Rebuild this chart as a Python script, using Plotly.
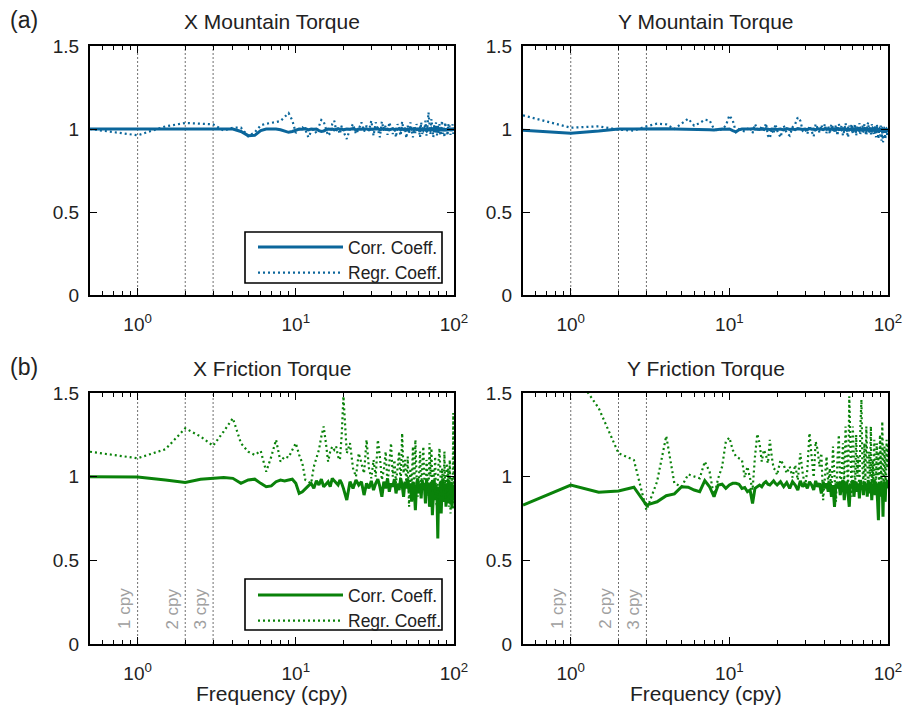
import math
import plotly.graph_objects as go

# ---------------- data ----------------
freq = [
    0.5, 1, 1.5, 2, 2.5, 3, 3.5, 4, 4.5, 5,
    5.5, 6, 6.5, 7, 7.5, 8, 8.5, 9, 9.5, 10,
    10.5, 11, 11.5, 12, 12.5, 13, 13.5, 14, 14.5, 15,
    15.5, 16, 16.5, 17, 17.5, 18, 18.5, 19, 19.5, 20,
    21, 22, 23, 24, 25, 26, 27, 28, 29, 30,
    31, 32, 33, 34, 35, 36, 37, 38, 39, 40,
    41, 42, 43, 44, 45, 46, 47, 48, 49, 50,
    51, 52, 53, 54, 55, 56, 57, 58, 59, 60,
    61, 62, 63, 64, 65, 66, 67, 68, 69, 70,
    71, 72, 73, 74, 75, 76, 77, 78, 79, 80,
    81, 82, 83, 84, 85, 86, 87, 88, 89, 90,
    91, 92, 93, 94, 95, 96, 97, 98, 99, 100,
]

xm_corr = [
    1.0, 0.998, 0.998, 1.0, 1.0, 1.0, 1.002, 1.0, 0.985, 0.96,
    0.962, 0.99, 1.0, 1.002, 1.0, 0.995, 0.988, 0.98, 0.985, 0.995,
    1.0, 0.998, 1.002, 0.995, 1.0, 0.998, 1.0, 0.99, 0.985, 0.988,
    0.995, 1.0, 0.998, 1.0, 0.995, 1.0, 1.002, 0.998, 1.0, 0.995,
    1.0, 0.998, 1.002, 0.995, 1.0, 0.998, 1.0, 1.002, 0.995, 1.0,
    0.998, 1.0, 1.002, 0.995, 1.0, 1.003, 0.997, 1.0, 0.995, 1.0,
    1.002, 0.996, 1.0, 0.998, 1.003, 0.995, 1.0, 0.997, 1.002, 0.996,
    1.0, 0.995, 1.003, 0.998, 1.0, 0.994, 1.002, 0.997, 1.0, 0.993,
    1.004, 0.996, 1.0, 0.992, 1.003, 0.998, 0.99, 1.004, 0.996, 1.0,
    0.992, 1.003, 0.997, 1.0, 0.99, 1.004, 0.995, 1.0, 0.991, 1.003,
    0.996, 0.99, 1.004, 0.997, 0.99, 1.003, 0.996, 0.99, 1.002, 0.995,
    0.99, 1.003, 0.996, 0.992, 1.004, 0.995, 0.99, 1.002, 0.996, 0.99,
]
xm_regr = [
    1.0, 0.962, 1.016, 1.036, 1.032, 1.028, 0.99, 1.008, 1.008, 0.956,
    0.98, 1.022, 1.032, 1.036, 1.042, 1.048, 1.076, 1.096, 1.052, 0.976,
    1.0, 1.01, 0.995, 0.95, 0.985, 1.0, 0.975, 1.01, 1.055, 1.045,
    1.0, 0.96, 0.975, 1.03, 1.05, 0.99, 1.0, 0.97, 1.02, 0.985,
    0.94, 1.0, 1.03, 0.97, 1.0, 1.04, 0.985, 1.02, 0.99, 1.05,
    0.96, 1.04, 1.0, 0.95, 1.045, 0.99, 1.02, 0.965, 1.04, 1.0,
    0.97, 1.01, 0.95, 1.03, 1.0, 0.96, 1.045, 0.99, 1.0, 0.945,
    1.02, 0.97, 1.04, 0.99, 0.95, 1.01, 0.975, 1.03, 0.985, 1.0,
    0.95, 1.04, 0.97, 1.01, 0.99, 1.05, 0.96, 1.02, 1.1, 1.03,
    0.97, 1.06, 0.99, 0.95, 1.03, 0.98, 1.04, 0.96, 1.02, 0.975,
    1.03, 0.96, 1.0, 1.05, 0.97, 1.01, 0.95, 1.04, 0.98, 1.0,
    0.96, 1.03, 0.99, 1.02, 0.965, 1.01, 0.98, 1.03, 0.97, 1.0,
]

ym_corr = [
    0.992, 0.975, 0.988, 1.0, 1.0, 1.002, 1.003, 1.002, 1.0, 1.0,
    0.998, 0.996, 0.998, 1.0, 0.996, 0.994, 0.997, 1.0, 0.998, 1.0,
    0.99, 0.983, 0.995, 1.0, 1.0, 0.998, 1.0, 1.002, 0.998, 1.0,
    0.997, 1.0, 0.998, 1.002, 1.0, 0.996, 1.0, 0.998, 1.0, 0.997,
    1.0, 0.995, 1.002, 0.997, 1.0, 0.996, 1.002, 1.0, 0.997, 1.0,
    0.996, 1.002, 0.998, 1.0, 0.995, 1.002, 0.997, 1.0, 0.996, 1.002,
    0.997, 1.0, 0.995, 1.003, 0.997, 1.0, 0.994, 1.002, 0.997, 1.0,
    0.995, 1.002, 0.996, 1.0, 0.993, 1.003, 0.997, 1.0, 0.994, 1.002,
    0.996, 1.0, 0.992, 1.003, 0.996, 0.99, 1.002, 0.995, 1.0, 0.992,
    1.002, 0.995, 0.99, 1.003, 0.996, 0.99, 1.0, 0.994, 0.99, 1.002,
    0.996, 0.99, 1.002, 0.994, 0.99, 1.0, 0.995, 0.988, 1.0, 0.994,
    0.99, 1.0, 0.993, 0.988, 1.0, 0.994, 0.99, 0.998, 0.992, 0.995,
]
ym_regr = [
    1.082, 1.008, 1.016, 0.996, 0.99, 1.016, 1.032, 1.028, 1.0, 1.032,
    1.062, 1.02, 1.036, 1.056, 1.052, 1.0, 0.99, 1.0, 1.02, 1.082,
    1.052, 0.982, 1.0, 0.99, 0.985, 1.0, 1.01, 0.975, 1.03, 1.0,
    0.99, 1.02, 0.985, 1.035, 0.96, 0.945, 1.0, 0.97, 1.03, 0.99,
    0.95, 1.02, 0.975, 0.96, 1.01, 1.03, 1.07, 1.05, 0.99, 1.0,
    0.97, 1.02, 0.985, 0.955, 1.03, 1.0, 0.98, 1.025, 0.99, 1.03,
    0.975, 1.02, 0.97, 1.03, 1.0, 0.985, 1.025, 0.96, 1.03, 0.99,
    1.02, 0.96, 0.99, 1.035, 0.985, 0.95, 1.02, 0.99, 1.03, 0.97,
    1.0, 1.03, 0.96, 1.01, 0.985, 1.035, 0.97, 1.0, 1.02, 0.975,
    1.03, 0.985, 0.96, 1.02, 1.04, 0.98, 1.01, 0.965, 1.03, 0.99,
    0.97, 1.02, 0.99, 0.95, 1.03, 0.975, 0.94, 1.0, 0.96, 1.02,
    0.93, 0.985, 0.92, 0.96, 1.0, 0.94, 0.965, 0.99, 0.955, 0.97,
]

xf_corr = [
    1.0, 0.998, 0.98, 0.965, 0.985, 0.992, 0.995, 0.99, 0.96, 0.98,
    0.985, 0.96, 0.94, 0.945, 0.97, 0.98, 0.975, 0.98, 0.985, 0.96,
    0.9, 0.91, 0.93, 0.945, 0.96, 0.93, 0.975, 0.95, 0.985, 0.94,
    0.955, 0.97, 0.94, 0.99, 0.975, 0.96, 0.95, 0.98, 0.96, 0.93,
    0.86, 0.97, 0.93, 0.98, 0.95, 0.97, 0.89, 0.96, 0.93, 0.975,
    0.92, 0.96, 0.985, 0.94, 0.88, 0.97, 0.93, 0.99, 0.91, 0.96,
    0.94, 0.985, 0.9, 0.96, 0.92, 0.99, 0.95, 0.88, 0.97, 0.93,
    0.99, 0.91, 0.96, 0.85, 0.97, 0.93, 0.8, 0.95, 0.99, 0.9,
    0.96, 0.87, 0.98, 0.92, 0.95, 0.84, 0.99, 0.9, 0.96, 0.82,
    0.94, 0.97, 0.77, 0.92, 0.98, 0.86, 0.95, 0.9, 0.63, 0.94,
    0.88, 0.97, 0.78, 0.93, 0.99, 0.85, 0.92, 0.96, 0.82, 0.95,
    0.9, 0.98, 0.84, 0.93, 0.87, 0.97, 0.81, 0.92, 0.95, 0.86,
]
xf_regr = [
    1.149, 1.11, 1.164, 1.289, 1.24, 1.185, 1.27, 1.349, 1.2, 1.149,
    1.13, 1.154, 1.03, 1.12, 1.22, 1.09, 1.12, 1.115, 1.16, 1.2,
    1.13, 1.08, 0.98, 0.97, 0.96, 1.06, 1.12, 1.16, 1.24, 1.3,
    1.2, 1.09, 1.15, 1.18, 1.16, 1.18, 1.12, 1.1, 1.25, 1.48,
    1.14, 1.2, 1.05, 1.0, 1.14, 1.08, 1.02, 1.22, 1.05, 0.99,
    1.1, 1.0, 1.22, 1.12, 0.98, 1.04, 1.15, 0.95, 1.08, 1.2,
    1.0, 1.1, 0.96, 1.05, 1.15, 0.94, 1.26, 1.02, 1.1, 0.95,
    1.12, 0.82, 1.05, 0.95, 1.18, 0.9, 1.22, 1.0, 0.88, 0.98,
    1.15, 0.92, 1.05, 1.18, 0.96, 0.85, 1.1, 0.95, 0.88, 1.2,
    1.0, 1.17, 0.9, 1.05, 0.95, 1.12, 0.86, 0.82, 1.0, 1.1,
    1.17, 0.95, 0.88, 1.05, 1.0, 0.92, 1.15, 0.85, 0.98, 1.08,
    0.95, 1.05, 0.82, 1.1, 0.78, 0.9, 1.0, 0.85, 1.38, 0.8,
]

yf_corr = [
    0.83, 0.95, 0.907, 0.915, 0.937, 0.83, 0.85, 0.886, 0.897, 0.94,
    0.937, 0.92, 0.91, 0.976, 0.94, 0.88, 0.95, 0.955, 0.93, 0.95,
    0.96, 0.96, 0.955, 0.93, 0.935, 0.91, 0.92, 0.84, 0.93, 0.94,
    0.95, 0.94, 0.96, 0.97, 0.955, 0.95, 0.965, 0.975, 0.96, 0.95,
    0.97, 0.94, 0.965, 0.93, 0.97, 0.95, 0.92, 0.975, 0.94, 0.96,
    0.93, 0.97, 0.95, 0.92, 0.975, 0.94, 0.96, 0.9, 0.97, 0.93,
    0.96, 0.91, 0.97, 0.88, 0.95, 0.82, 0.96, 0.93, 0.97, 0.89,
    0.95, 0.98, 0.86, 0.94, 0.97, 0.9, 0.82, 0.96, 0.93, 0.98,
    0.88, 0.95, 0.97, 0.91, 0.96, 0.87, 0.98, 0.93, 0.95, 0.89,
    0.97, 0.92, 0.96, 0.88, 0.98, 0.94, 0.9, 0.97, 0.86, 0.95,
    0.92, 0.98, 0.89, 0.96, 0.93, 0.85, 0.74, 0.97, 0.9, 0.96,
    0.88, 0.95, 0.76, 0.97, 0.91, 0.85, 0.96, 0.93, 0.98, 0.94,
]
yf_regr = [
    2.0, 1.65, 1.41, 1.14, 1.1, 0.8, 0.97, 1.243, 0.96, 0.94,
    1.014, 1.0, 0.99, 1.09, 1.03, 0.88, 0.99, 1.06, 1.21, 1.233,
    1.16, 1.12, 1.11, 1.1, 0.995, 1.06, 0.99, 0.92, 1.12, 1.255,
    1.2, 1.09, 1.16, 1.13, 1.08, 1.22, 1.12, 1.05, 1.04, 1.01,
    1.1, 1.07, 1.02, 1.06, 0.995, 1.07, 0.98, 1.14, 1.02, 0.94,
    1.04, 1.26, 1.12, 0.995, 1.21, 1.16, 1.06, 1.14, 0.86, 1.02,
    1.12, 0.95, 1.05, 0.9, 1.18, 1.0, 0.85, 1.1, 1.25, 0.92,
    1.02, 1.2, 0.95, 1.3, 1.1, 0.9, 1.48, 1.15, 0.88, 1.3,
    1.05, 0.92, 1.25, 1.0, 1.12, 0.9, 1.3, 1.46, 1.05, 0.95,
    1.2, 0.98, 1.3, 1.08, 0.92, 1.15, 1.0, 1.3, 0.9, 1.1,
    0.97, 1.22, 1.05, 0.93, 1.2, 1.0, 1.15, 0.9, 1.25, 1.05,
    0.95, 1.33, 1.1, 0.92, 1.18, 1.02, 0.9, 1.22, 1.05, 1.2,
]

ref_freqs = [1, 2, 3]
ref_labels = ["1 cpy", "2 cpy", "3 cpy"]
panel_titles = ["X Mountain Torque", "Y Mountain Torque", "X Friction Torque", "Y Friction Torque"]
series_names = ["Corr. Coeff.", "Regr. Coeff."]
x_tickvals = [1, 10, 100]
x_ticktext = ["10<sup>0</sup>", "10<sup>1</sup>", "10<sup>2</sup>"]
x_minor = [0.6, 0.7, 0.8, 0.9, 2, 3, 4, 5, 6, 7, 8, 9, 20, 30, 40, 50, 60, 70, 80, 90]
x_range = [0.5, 100]
y_tickvals = [0, 0.5, 1, 1.5]
y_ticktext = ["0", "0.5", "1", "1.5"]
y_range = [0, 1.5]

# ---------------- style ----------------
W, H = 903, 707
BLUE = "#0b669b"
GREEN = "#0a820a"
FONT = "Liberation Sans, Arial, Helvetica, sans-serif"
TXT = "#222222"

# panel boxes in pixels: (left, right, top, bottom)
boxes = [(90, 454, 46, 295), (523, 888, 46, 295), (90, 454, 393, 644), (523, 888, 393, 644)]
panel_data = [(xm_corr, xm_regr, BLUE), (ym_corr, ym_regr, BLUE),
              (xf_corr, xf_regr, GREEN), (yf_corr, yf_regr, GREEN)]
legend_for = {0: "legend", 2: "legend2"}

fig = go.Figure()
layout = dict(
    template="none",
    width=W, height=H, margin=dict(l=0, r=0, t=0, b=0, autoexpand=False),
    paper_bgcolor="white", plot_bgcolor="white",
    font=dict(family=FONT, color=TXT, size=18),
    annotations=[], shapes=[],
)

for i, (box, (corr, regr, col)) in enumerate(zip(boxes, panel_data)):
    l, r, t, b = box
    n = i + 1
    xa = "x" if n == 1 else f"x{n}"
    ya = "y" if n == 1 else f"y{n}"
    xkey = "xaxis" if n == 1 else f"xaxis{n}"
    ykey = "yaxis" if n == 1 else f"yaxis{n}"

    # reference frequency lines
    for f in ref_freqs:
        fig.add_trace(go.Scatter(x=[f, f], y=y_range, mode="lines", xaxis=xa, yaxis=ya,
                                 line=dict(color="#707070", width=1, dash="2px,2px"),
                                 showlegend=False, hoverinfo="skip"))

    leg = legend_for.get(i)
    fig.add_trace(go.Scatter(x=freq, y=corr, mode="lines", name=series_names[0], xaxis=xa, yaxis=ya,
                             line=dict(color=col, width=3), showlegend=leg is not None,
                             legend=leg if leg else "legend"))
    fig.add_trace(go.Scatter(x=freq, y=regr, mode="lines", name=series_names[1], xaxis=xa, yaxis=ya,
                             line=dict(color=col, width=2.2, dash="2px,3px"), showlegend=leg is not None,
                             legend=leg if leg else "legend"))

    layout[xkey] = dict(
        type="log", range=[math.log10(x_range[0]), math.log10(x_range[1])],
        domain=[l / W, r / W], anchor=ya, automargin=False,
        showline=True, mirror="ticks", linecolor="black", linewidth=2,
        ticks="inside", ticklen=7, tickwidth=1.3, tickcolor="black",
        tickmode="array", tickvals=x_tickvals, ticktext=x_ticktext,
        minor=dict(tickmode="array", tickvals=x_minor, ticks="inside", ticklen=4,
                   tickwidth=1.1, tickcolor="black", showgrid=False),
        showgrid=False, zeroline=False, tickfont=dict(size=19, color=TXT),
        ticklabelstandoff=11,
    )
    layout[ykey] = dict(
        range=y_range, domain=[1 - b / H, 1 - t / H], anchor=xa, automargin=False,
        showline=True, mirror="ticks", linecolor="black", linewidth=2,
        ticks="inside", ticklen=7, tickwidth=1.3, tickcolor="black",
        tickmode="array", tickvals=y_tickvals, ticktext=y_ticktext,
        showgrid=False, zeroline=False, tickfont=dict(size=19, color=TXT),
        ticklabelstandoff=5,
    )

    # panel title
    layout["annotations"].append(dict(
        text=panel_titles[i], xref="paper", yref="paper", x=(l + r) / 2 / W, y=1 - (t - 25) / H,
        xanchor="center", yanchor="middle", showarrow=False, font=dict(size=21, color=TXT)))

    if i >= 2:
        layout["annotations"].append(dict(
            text="Frequency (cpy)", xref="paper", yref="paper", x=(l + r) / 2 / W, y=1 - 693 / H,
            xanchor="center", yanchor="middle", showarrow=False, font=dict(size=21, color=TXT)))
        for f, lab in zip(ref_freqs, ref_labels):
            layout["annotations"].append(dict(
                text=lab, xref=xa, yref=ya, x=math.log10(f), y=0.21, textangle=-90,
                xanchor="right", yanchor="middle", xshift=-1, showarrow=False,
                font=dict(size=17, color="#a0a0a0")))

    if leg is not None:
        # legend frame
        layout["shapes"].append(dict(
            type="rect", xref="paper", yref="paper", x0=245 / W, x1=442 / W,
            y0=1 - (t + 237) / H, y1=1 - (t + 186) / H, layer="above",
            line=dict(color="black", width=1.6), fillcolor="white"))

for lab, yy in (("(a)", 20), ("(b)", 367)):
    layout["annotations"].append(dict(
        text=lab, xref="paper", yref="paper", x=8 / W, y=1 - yy / H, xanchor="left", yanchor="middle",
        showarrow=False, font=dict(size=23, color=TXT)))

legend_style = dict(xanchor="left", yanchor="top", bgcolor="rgba(0,0,0,0)", borderwidth=0,
                    font=dict(size=17.5, color=TXT), itemwidth=85, tracegroupgap=0)
layout["legend"] = dict(x=253 / W, y=1 - 229 / H, **legend_style)
layout["legend2"] = dict(x=253 / W, y=1 - 577 / H, **legend_style)
layout["showlegend"] = True

fig.update_layout(**layout)
fig.write_html("out.html")
